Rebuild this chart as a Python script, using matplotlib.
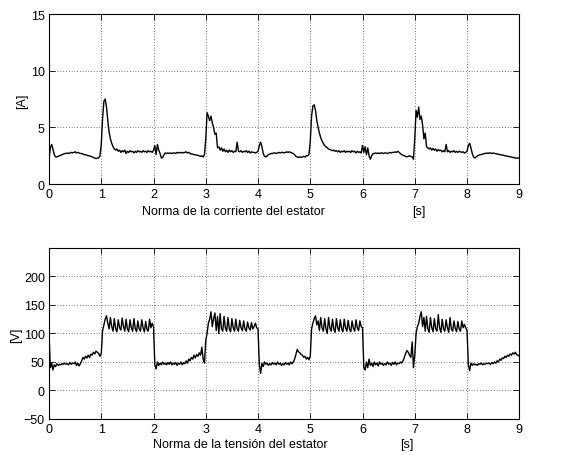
import numpy as np
import matplotlib
matplotlib.use("Agg")
import matplotlib.pyplot as plt

plt.rcParams['font.family'] = ['Liberation Sans', 'DejaVu Sans']

# Sampling grid of the recording [s]
t = np.arange(361) * 0.025

# Stator current norm [A], one row per second
corriente = [
    2.2, 3.2, 3.5, 3.1, 2.6, 2.4, 2.4, 2.45, 2.5, 2.55, 2.6, 2.65, 2.7, 2.7, 2.75, 2.7, 2.75, 2.8, 2.75, 2.8,
    2.85, 2.75, 2.8, 2.75, 2.7, 2.7, 2.65, 2.6, 2.6, 2.55, 2.5, 2.5, 2.45, 2.4, 2.35, 2.3, 2.25, 2.3, 2.3, 2.5,
    3.5, 5.8, 7.3, 7.5, 6.8, 5.6, 4.6, 4.0, 3.6, 3.3, 3.1, 3.0, 3.1, 2.9, 3.0, 2.8, 2.95, 2.85, 3.0, 2.7,
    2.9, 2.8, 2.95, 2.85, 2.9, 2.75, 2.9, 2.8, 2.95, 2.85, 2.9, 2.8, 2.95, 2.85, 2.9, 2.8, 2.95, 2.85, 2.9, 2.8,
    3.0, 3.4, 2.6, 3.5, 3.0, 2.7, 2.3, 2.35, 2.6, 2.75, 2.7, 2.75, 2.7, 2.75, 2.7, 2.75, 2.75, 2.7, 2.8, 2.75,
    2.8, 2.75, 2.8, 2.75, 2.8, 2.85, 2.75, 2.8, 2.7, 2.65, 2.65, 2.6, 2.6, 2.55, 2.55, 2.5, 2.45, 2.5, 2.4, 2.6,
    4.0, 6.3, 6.0, 5.6, 6.0, 5.4, 5.0, 4.4, 4.5, 3.2, 3.3, 3.0, 3.2, 2.9, 3.1, 2.85, 3.0, 2.8, 3.0, 2.85,
    2.95, 2.8, 2.9, 2.85, 3.7, 2.9, 2.85, 2.95, 2.8, 2.9, 2.85, 2.95, 2.8, 2.9, 2.75, 2.85, 2.8, 2.8, 2.75, 2.8,
    2.9, 3.4, 3.7, 3.3, 2.7, 2.45, 2.4, 2.5, 2.6, 2.65, 2.7, 2.7, 2.75, 2.75, 2.7, 2.75, 2.8, 2.75, 2.8, 2.8,
    2.75, 2.8, 2.85, 2.8, 2.85, 2.8, 2.75, 2.7, 2.6, 2.45, 2.4, 2.35, 2.4, 2.35, 2.4, 2.45, 2.4, 2.5, 2.5, 2.6,
    3.8, 6.0, 6.9, 7.0, 6.5, 5.6, 5.0, 4.5, 4.1, 3.8, 3.6, 3.4, 3.3, 3.2, 3.1, 3.05, 3.0, 2.95, 3.0, 2.9,
    2.95, 2.85, 2.95, 2.8, 2.9, 2.85, 2.95, 2.8, 2.9, 2.85, 2.9, 2.8, 2.95, 2.85, 2.9, 2.75, 2.9, 2.8, 2.85, 2.75,
    3.4, 2.8, 3.3, 2.6, 3.2, 2.5, 2.2, 2.5, 2.7, 2.7, 2.75, 2.7, 2.75, 2.7, 2.75, 2.75, 2.7, 2.75, 2.75, 2.7,
    2.75, 2.8, 2.75, 2.8, 2.8, 2.85, 2.8, 2.9, 2.8, 2.7, 2.6, 2.55, 2.5, 2.45, 2.4, 2.45, 2.5, 2.45, 2.4, 2.2,
    4.0, 6.5, 5.9, 6.8, 5.7, 6.0, 5.2, 4.0, 4.5, 3.3, 3.2, 3.1, 3.2, 3.0, 3.15, 3.0, 3.1, 2.9, 3.05, 2.95,
    3.0, 2.85, 2.95, 2.85, 3.5, 2.85, 2.95, 2.8, 2.9, 2.85, 2.95, 2.8, 2.9, 2.8, 2.9, 2.85, 2.8, 2.85, 2.75, 2.8,
    2.9, 3.4, 3.6, 3.2, 2.7, 2.4, 2.3, 2.4, 2.5, 2.55, 2.6, 2.6, 2.65, 2.7, 2.7, 2.75, 2.7, 2.75, 2.75, 2.7,
    2.75, 2.7, 2.7, 2.65, 2.65, 2.6, 2.6, 2.55, 2.55, 2.5, 2.5, 2.45, 2.45, 2.4, 2.4, 2.35, 2.35, 2.3, 2.3, 2.3,
    2.3,
]

# Stator voltage norm [V], one row per second
tension = [
    100, 40, 48, 36, 45, 42, 47, 44, 46, 45, 47, 46, 48, 46, 47, 45, 49, 46, 48, 47,
    50, 44, 48, 43, 47, 52, 58, 55, 60, 57, 62, 58, 64, 62, 67, 64, 69, 67, 65, 60,
    65, 105, 115, 125, 131, 118, 108, 128, 112, 104, 126, 108, 103, 124, 110, 106, 127, 112, 104, 125,
    108, 103, 124, 110, 104, 126, 109, 103, 122, 108, 104, 124, 110, 103, 121, 107, 104, 125, 110, 118,
    112, 45, 38, 50, 44, 48, 45, 50, 46, 48, 45, 49, 46, 50, 45, 48, 46, 49, 44, 48,
    46, 50, 45, 49, 47, 52, 48, 55, 52, 58, 55, 62, 57, 63, 60, 66, 62, 76, 55, 48,
    88, 100, 118, 125, 138, 112, 126, 136, 105, 130, 100, 135, 108, 104, 130, 110, 104, 128, 108, 103,
    126, 110, 104, 125, 108, 104, 123, 110, 105, 122, 108, 104, 120, 110, 106, 119, 108, 112, 118, 110,
    108, 45, 30, 48, 42, 50, 46, 48, 44, 47, 45, 49, 46, 48, 45, 50, 46, 48, 44, 47,
    45, 49, 46, 48, 45, 50, 47, 50, 55, 63, 72, 68, 66, 63, 62, 58, 60, 55, 58, 54,
    60, 108, 118, 126, 131, 115, 122, 105, 128, 110, 104, 126, 108, 100, 128, 110, 104, 125, 108, 102,
    126, 110, 104, 124, 108, 103, 125, 110, 104, 123, 108, 103, 122, 109, 104, 124, 110, 105, 122, 112,
    110, 40, 36, 50, 40, 55, 44, 48, 42, 50, 45, 48, 43, 50, 46, 48, 44, 47, 45, 50,
    46, 48, 44, 49, 46, 50, 45, 48, 47, 50, 48, 52, 58, 65, 70, 67, 62, 58, 85, 40,
    62, 100, 112, 118, 130, 138, 112, 128, 104, 130, 108, 102, 128, 110, 103, 126, 108, 104, 133, 110,
    102, 125, 108, 104, 124, 110, 102, 128, 108, 104, 122, 109, 103, 121, 108, 104, 122, 110, 116, 110,
    106, 45, 35, 48, 44, 47, 45, 46, 44, 47, 46, 48, 45, 47, 46, 48, 47, 48, 46, 49,
    47, 50, 48, 52, 50, 55, 53, 57, 56, 60, 58, 62, 60, 64, 62, 66, 64, 67, 63, 62,
    60,
]

xticks = list(range(10))
yticks_i = [0, 5, 10, 15]
yticks_v = [-50, 0, 50, 100, 150, 200]

FS = 9

fig = plt.figure(figsize=(5.7, 4.56), dpi=100)
ax1 = fig.add_axes([0.086, 0.594, 0.825, 0.373])
ax2 = fig.add_axes([0.086, 0.079, 0.825, 0.375])


def style(ax, yticks, ylim):
    ax.set_xlim(0, 9)
    ax.set_ylim(*ylim)
    ax.set_xticks(xticks)
    ax.set_yticks(yticks)
    ax.tick_params(direction='in', top=True, right=True, length=4,
                   labelsize=FS, pad=3, width=0.6)
    ax.grid(True, color='black', linestyle=(0, (1, 3)), linewidth=0.5)
    for s in ax.spines.values():
        s.set_linewidth(0.8)


def figtext(x, y, s, **kw):
    # positions given in pixels from the top-left corner
    fig.text(x / 570, 1 - y / 456, s, ha='center', va='center', fontsize=FS, **kw)


ax1.plot(t, corriente, color='black', linewidth=1.0)
style(ax1, yticks_i, (0, 15))
figtext(22.5, 101, '[A]', rotation=90)
figtext(233, 212, 'Norma de la corriente del estator')
figtext(419, 212, '[s]')

ax2.plot(t, tension, color='black', linewidth=1.0)
style(ax2, yticks_v, (-50, 250))
figtext(16, 335, '[V]', rotation=90)
figtext(240, 445, 'Norma de la tensión del estator')
figtext(407, 445, '[s]')

plt.savefig('out.png', dpi=100)
plt.close()
